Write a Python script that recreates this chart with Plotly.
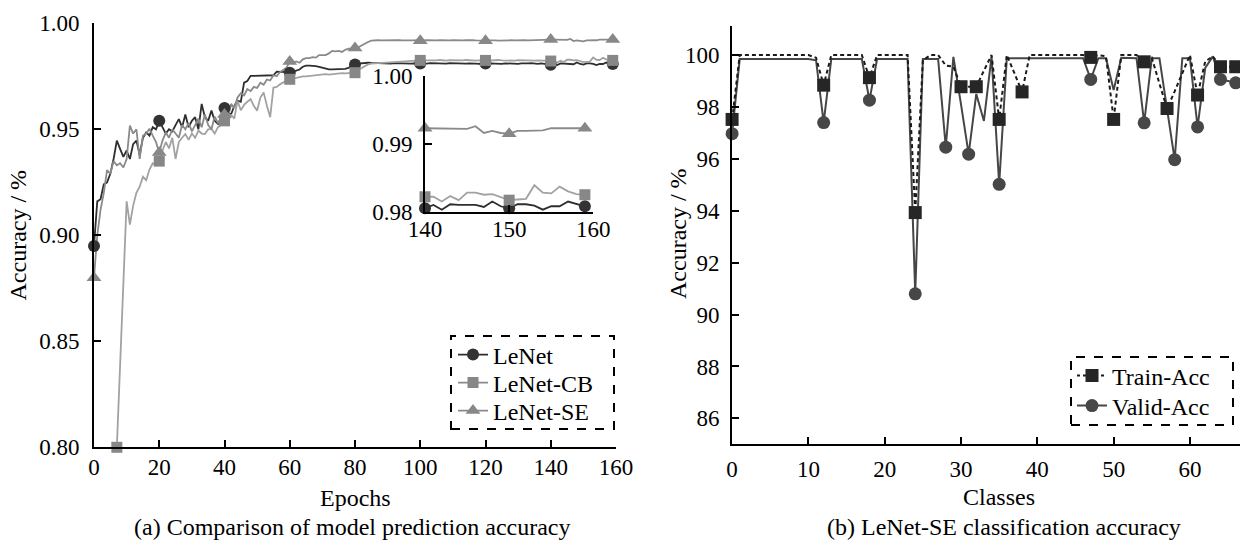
import plotly.graph_objects as go

FONT = "Liberation Serif, Times New Roman, serif"

# ---------------- data: (a) accuracy per epoch ----------------
epochs = list(range(160))

lenet_acc = [
    0.895, 0.916, 0.917, 0.924, 0.925, 0.929, 0.936, 0.9447, 0.9408, 0.937,
    0.940, 0.936, 0.943, 0.9447, 0.938, 0.946, 0.9485, 0.947, 0.951, 0.950,
    0.954, 0.951, 0.948, 0.950, 0.949, 0.952, 0.9548, 0.951, 0.957, 0.951,
    0.954, 0.9557, 0.950, 0.962, 0.9557, 0.954, 0.9588, 0.954, 0.9525, 0.956,
    0.960, 0.958, 0.957, 0.961, 0.9635, 0.963, 0.972, 0.9728, 0.9752, 0.9752,
    0.9752, 0.9752, 0.9752, 0.9752, 0.9752, 0.9755, 0.9772, 0.9772, 0.9772, 0.9770,
    0.9767, 0.9772, 0.9775, 0.9782, 0.9795, 0.9800, 0.9800, 0.9800, 0.9798, 0.9795,
    0.9790, 0.9785, 0.9783, 0.9783, 0.9783, 0.9784, 0.9785, 0.9785, 0.9790, 0.9798,
    0.9806, 0.9810, 0.9812, 0.9814, 0.9814, 0.9813, 0.9812, 0.9813, 0.9811, 0.9812,
    0.9811, 0.9810, 0.9812, 0.9811, 0.9810, 0.9812, 0.9811, 0.9810, 0.9811, 0.9810,
    0.9810, 0.9811, 0.9810, 0.9812, 0.9811, 0.9810, 0.9809, 0.9811, 0.9810, 0.9812,
    0.9811, 0.9810, 0.9809, 0.9811, 0.9810, 0.9811, 0.9812, 0.9810, 0.9809, 0.9811,
    0.9810, 0.9811, 0.9810, 0.9812, 0.9810, 0.9809, 0.9811, 0.9810, 0.9812, 0.9810,
    0.9809, 0.9811, 0.9810, 0.9811, 0.9812, 0.9810, 0.9809, 0.9811, 0.9810, 0.9808,
    0.9805, 0.9810, 0.9803, 0.9811, 0.9810, 0.9810, 0.9810, 0.9807, 0.9815, 0.9808,
    0.9805, 0.9811, 0.9811, 0.9809, 0.9803, 0.9808, 0.9808, 0.9815, 0.9812, 0.9808,
]

lenet_cb_acc = [
    None, None, None, None, None, None, None, 0.800, 0.838, 0.877,
    0.916, 0.905, 0.914, 0.920, 0.9229, 0.9276, 0.926, 0.931, 0.934, 0.933,
    0.935, 0.940, 0.944, 0.941, 0.946, 0.936, 0.944, 0.946, 0.9478, 0.945,
    0.948, 0.946, 0.9494, 0.948, 0.9478, 0.950, 0.9502, 0.948, 0.951, 0.952,
    0.954, 0.953, 0.957, 0.955, 0.9635, 0.9590, 0.9615, 0.9630, 0.9642, 0.9610,
    0.9588, 0.9650, 0.9674, 0.9611, 0.9557, 0.9697, 0.9700, 0.9712, 0.9722, 0.9730,
    0.9736, 0.9740, 0.9745, 0.9748, 0.9750, 0.9750, 0.9752, 0.9755, 0.9757, 0.9758,
    0.9759, 0.9760, 0.9758, 0.9760, 0.9762, 0.9762, 0.9765, 0.9764, 0.9766, 0.9766,
    0.9767, 0.9780, 0.9790, 0.9800, 0.9806, 0.9810, 0.9811, 0.9814, 0.9814, 0.9815,
    0.9817, 0.9818, 0.9819, 0.9820, 0.9820, 0.9822, 0.9822, 0.9823, 0.9824, 0.9825,
    0.9825, 0.9826, 0.9825, 0.9824, 0.9826, 0.9825, 0.9827, 0.9825, 0.9824, 0.9826,
    0.9825, 0.9826, 0.9824, 0.9825, 0.9827, 0.9825, 0.9826, 0.9824, 0.9825, 0.9826,
    0.9825, 0.9824, 0.9826, 0.9825, 0.9827, 0.9825, 0.9824, 0.9826, 0.9825, 0.9824,
    0.9826, 0.9825, 0.9824, 0.9826, 0.9825, 0.9824, 0.9825, 0.9823, 0.9824, 0.9823,
    0.9822, 0.9822, 0.9815, 0.9823, 0.9817, 0.9828, 0.9828, 0.9825, 0.9826, 0.9822,
    0.9817, 0.9818, 0.9819, 0.9839, 0.9828, 0.9827, 0.9837, 0.9830, 0.9826, 0.9825,
]

lenet_se_acc = [
    0.880, 0.900, 0.912, 0.920, 0.9307, 0.929, 0.935, 0.933, 0.934, 0.932,
    0.936, 0.9518, 0.948, 0.950, 0.936, 0.947, 0.948, 0.9503, 0.947, 0.944,
    0.939, 0.9447, 0.9485, 0.946, 0.950, 0.948, 0.946, 0.952, 0.950, 0.953,
    0.949, 0.952, 0.955, 0.951, 0.957, 0.952, 0.950, 0.956, 0.953, 0.955,
    0.957, 0.955, 0.962, 0.960, 0.965, 0.967, 0.966, 0.969, 0.968, 0.970,
    0.9695, 0.972, 0.971, 0.9735, 0.973, 0.9755, 0.975, 0.977, 0.978, 0.979,
    0.982, 0.9815, 0.982, 0.9814, 0.983, 0.9836, 0.9836, 0.984, 0.9838, 0.985,
    0.985, 0.985, 0.9858, 0.987, 0.9868, 0.987, 0.9865, 0.9875, 0.988, 0.988,
    0.9884, 0.9886, 0.9895, 0.9905, 0.9912, 0.9918, 0.9920, 0.9920, 0.9919, 0.9920,
    0.9920, 0.9919, 0.9920, 0.9921, 0.9920, 0.9919, 0.9920, 0.9920, 0.9919, 0.9920,
    0.9918, 0.9919, 0.9920, 0.9919, 0.9918, 0.9919, 0.9920, 0.9919, 0.9918, 0.9919,
    0.9920, 0.9919, 0.9918, 0.9919, 0.9920, 0.9921, 0.9920, 0.9919, 0.9918, 0.9919,
    0.9918, 0.9919, 0.9920, 0.9919, 0.9918, 0.9919, 0.9920, 0.9921, 0.9920, 0.9919,
    0.9920, 0.9921, 0.9920, 0.9919, 0.9920, 0.9921, 0.9922, 0.9921, 0.9922, 0.9923,
    0.9923, 0.9923, 0.9922, 0.9922, 0.9922, 0.9922, 0.9926, 0.9916, 0.9919, 0.9916,
    0.9915, 0.9919, 0.9919, 0.9920, 0.9920, 0.9923, 0.9923, 0.9923, 0.9923, 0.9923,
]

main_marker_epochs = [0, 20, 40, 60, 80, 100, 120, 140, 159]
cb_marker_epochs = [7, 20, 40, 60, 80, 100, 120, 140, 159]
inset_marker_epochs = [140, 150, 159]
inset_start = 140

# ---------------- data: (b) accuracy per class ----------------
classes = list(range(67))
train_acc = [
    97.52, 100.0, 100.0, 100.0, 100.0, 100.0, 100.0, 100.0, 100.0, 100.0,
    100.0, 99.9, 98.84, 100.0, 100.0, 100.0, 100.0, 100.0, 99.13, 100.0,
    100.0, 100.0, 100.0, 100.0, 93.93, 99.8, 100.0, 100.0, 99.6, 99.55,
    98.78, 98.78, 98.78, 99.4, 100.0, 97.52, 100.0, 99.3, 98.58, 100.0,
    100.0, 100.0, 100.0, 100.0, 100.0, 100.0, 100.0, 99.91, 100.0, 99.95,
    97.52, 100.0, 100.0, 100.0, 99.74, 99.9, 98.9, 97.94, 98.6, 99.3,
    100.0, 98.46, 99.75, 99.95, 99.55, 99.55, 99.55,
]
valid_acc = [
    96.97, 99.85, 99.85, 99.85, 99.85, 99.85, 99.85, 99.85, 99.85, 99.85,
    99.85, 99.8, 97.4, 99.85, 99.85, 99.85, 99.85, 99.85, 98.26, 99.85,
    99.85, 99.85, 99.85, 99.85, 90.8, 99.85, 99.85, 99.85, 96.45, 99.93,
    98.1, 96.18, 98.5, 97.46, 99.95, 95.02, 99.88, 99.88, 99.88, 99.88,
    99.88, 99.88, 99.88, 99.88, 99.88, 99.88, 99.88, 99.06, 99.88, 99.88,
    98.65, 99.9, 99.88, 99.88, 97.39, 99.88, 99.88, 97.9, 95.97, 99.88,
    99.88, 97.23, 99.5, 99.95, 99.06, 99.0, 98.93,
]
train_marked = [0, 12, 18, 24, 30, 32, 35, 38, 47, 50, 54, 57, 61, 64, 66]
valid_marked = [0, 12, 18, 24, 28, 31, 35, 47, 54, 58, 61, 64, 66]

# ---------------- layout helpers ----------------
W, H = 1240, 544


def px(x):
    return x / W


def py(y):
    return 1 - y / H


fig = go.Figure()

left_series = [
    ("LeNet", lenet_acc, "#2e2e2e", "#333333", "circle", 12, main_marker_epochs, "legend", 355),
    ("LeNet-CB", lenet_cb_acc, "#a2a2a2", "#878787", "square", 11, cb_marker_epochs, "legend2", 383),
    ("LeNet-SE", lenet_se_acc, "#8a8a8a", "#888888", "triangle-up", 13, main_marker_epochs, "legend3", 411),
]

# lines (main + inset)
for name, vals, lc, mc, sym, ms, marks, lg, ly in left_series:
    fig.add_trace(go.Scatter(x=epochs, y=vals, mode="lines", line=dict(color=lc, width=1.8),
                             showlegend=False, hoverinfo="skip", xaxis="x", yaxis="y"))
    ins_x = [e for e in epochs if e >= inset_start]
    ins_y = [vals[e] for e in ins_x]
    fig.add_trace(go.Scatter(x=ins_x, y=ins_y, mode="lines", line=dict(color=lc, width=1.8),
                             showlegend=False, hoverinfo="skip", xaxis="x2", yaxis="y2"))
# markers
for name, vals, lc, mc, sym, ms, marks, lg, ly in left_series:
    fig.add_trace(go.Scatter(x=marks, y=[vals[e] for e in marks], mode="markers",
                             marker=dict(symbol=sym, size=ms, color=mc, line=dict(width=0)),
                             cliponaxis=False, showlegend=False, xaxis="x", yaxis="y"))
    fig.add_trace(go.Scatter(x=inset_marker_epochs, y=[vals[e] for e in inset_marker_epochs],
                             mode="markers",
                             marker=dict(symbol=sym, size=ms, color=mc, line=dict(width=0)),
                             cliponaxis=False, showlegend=False, xaxis="x2", yaxis="y2"))
# legend entries (a)
for name, vals, lc, mc, sym, ms, marks, lg, ly in left_series:
    fig.add_trace(go.Scatter(x=[None], y=[None], mode="lines+markers", name=name,
                             line=dict(color=lc if name != "LeNet-CB" else "#8a8a8a", width=1.8),
                             marker=dict(symbol=sym, size=ms, color=mc, line=dict(width=0)),
                             legend=lg, xaxis="x", yaxis="y"))

# (b) valid first, train on top
fig.add_trace(go.Scatter(x=classes, y=valid_acc, mode="lines", line=dict(color="#464646", width=2),
                         showlegend=False, xaxis="x3", yaxis="y3"))
fig.add_trace(go.Scatter(x=classes, y=train_acc, mode="lines",
                         line=dict(color="#1a1a1a", width=2, dash="4px,3px"),
                         showlegend=False, xaxis="x3", yaxis="y3"))
fig.add_trace(go.Scatter(x=valid_marked, y=[valid_acc[c] for c in valid_marked], mode="markers",
                         marker=dict(symbol="circle", size=13, color="#474747", line=dict(width=0)),
                         cliponaxis=False, showlegend=False, xaxis="x3", yaxis="y3"))
fig.add_trace(go.Scatter(x=train_marked, y=[train_acc[c] for c in train_marked], mode="markers",
                         marker=dict(symbol="square", size=13, color="#262626", line=dict(width=0)),
                         cliponaxis=False, showlegend=False, xaxis="x3", yaxis="y3"))
fig.add_trace(go.Scatter(x=[None], y=[None], mode="lines+markers", name="Train-Acc",
                         line=dict(color="#1a1a1a", width=2, dash="3px,3px"),
                         marker=dict(symbol="square", size=13, color="#262626", line=dict(width=0)),
                         legend="legend4", xaxis="x3", yaxis="y3"))
fig.add_trace(go.Scatter(x=[None], y=[None], mode="lines+markers", name="Valid-Acc",
                         line=dict(color="#464646", width=2),
                         marker=dict(symbol="circle", size=13, color="#474747", line=dict(width=0)),
                         legend="legend5", xaxis="x3", yaxis="y3"))

tickfont = dict(family=FONT, size=23, color="black")
ax = dict(showline=True, linewidth=2, linecolor="black", ticks="inside", ticklen=7,
          tickwidth=2, tickcolor="black", showgrid=False, zeroline=False, tickfont=tickfont,
          automargin=False)


def one_legend(xpix, ypix):
    return dict(x=px(xpix), y=py(ypix), xanchor="left", yanchor="middle", bgcolor="rgba(0,0,0,0)",
                borderwidth=0, font=dict(family=FONT, size=24, color="black"),
                itemwidth=30, tracegroupgap=0)


fig.update_layout(
    width=W, height=H, margin=dict(l=0, r=0, t=0, b=0, pad=0, autoexpand=False),
    paper_bgcolor="white", plot_bgcolor="rgba(0,0,0,0)",
    xaxis=dict(ax, domain=[px(94), px(616)], range=[0, 160], anchor="y",
               tickvals=[0, 20, 40, 60, 80, 100, 120, 140, 160], ticklabelstandoff=-2),
    yaxis=dict(ax, domain=[py(447.3), py(23.3)], range=[0.8, 1.0], anchor="x",
               tickvals=[0.80, 0.85, 0.90, 0.95, 1.00], tickformat=".2f", ticklabelstandoff=8),
    xaxis2=dict(ax, domain=[px(425), px(593.3)], range=[140, 160], anchor="y2",
                tickvals=[140, 150, 160], ticklabelstandoff=-4),
    yaxis2=dict(ax, domain=[py(211.7), py(76)], range=[0.98, 1.0], anchor="x2",
                tickvals=[0.98, 0.99, 1.00], tickformat=".2f", ticklabelstandoff=6),
    xaxis3=dict(ax, domain=[px(732.1), 1.0], range=[0, 66.56], anchor="y3",
                tickvals=[0, 10, 20, 30, 40, 50, 60], ticklabelstandoff=3),
    yaxis3=dict(ax, domain=[py(444.3), py(26)], range=[85, 101.12], anchor="x3",
                tickvals=[86, 88, 90, 92, 94, 96, 98, 100], ticklabelstandoff=6),
    legend=one_legend(453, 355),
    legend2=one_legend(453, 383),
    legend3=one_legend(453, 411),
    legend4=one_legend(1072, 376),
    legend5=one_legend(1072, 406),
    shapes=[
        dict(type="rect", xref="paper", yref="paper", x0=px(451), x1=px(614), y0=py(429), y1=py(336),
             line=dict(color="black", width=2, dash="dash"), fillcolor="rgba(0,0,0,0)"),
        dict(type="rect", xref="paper", yref="paper", x0=px(1071), x1=px(1233), y0=py(425), y1=py(357),
             line=dict(color="black", width=2, dash="dash"), fillcolor="rgba(0,0,0,0)"),
    ],
    annotations=[
        dict(text="Accuracy / %", x=px(17.5), y=py(235), xref="paper", yref="paper", textangle=-90,
             showarrow=False, xanchor="center", yanchor="middle", font=dict(family=FONT, size=24, color="black")),
        dict(text="Accuracy / %", x=px(678), y=py(234), xref="paper", yref="paper", textangle=-90,
             showarrow=False, xanchor="center", yanchor="middle", font=dict(family=FONT, size=24, color="black")),
        dict(text="Epochs", x=px(355), y=py(498), xref="paper", yref="paper", showarrow=False,
             xanchor="center", yanchor="middle", font=dict(family=FONT, size=24, color="black")),
        dict(text="Classes", x=px(999), y=py(497), xref="paper", yref="paper", showarrow=False,
             xanchor="center", yanchor="middle", font=dict(family=FONT, size=24, color="black")),
        dict(text="(a) Comparison of model prediction accuracy", x=px(352), y=py(527), xref="paper",
             yref="paper", showarrow=False, xanchor="center", yanchor="middle",
             font=dict(family=FONT, size=24, color="black")),
        dict(text="(b) LeNet-SE classification accuracy", x=px(1004), y=py(527), xref="paper",
             yref="paper", showarrow=False, xanchor="center", yanchor="middle",
             font=dict(family=FONT, size=24, color="black")),
    ],
)

fig.write_html(
    "out.html",
    config={"displayModeBar": False},
    post_script="document.body.style.margin='0';document.body.style.padding='0';"
                "document.documentElement.style.overflow='hidden';",
)
